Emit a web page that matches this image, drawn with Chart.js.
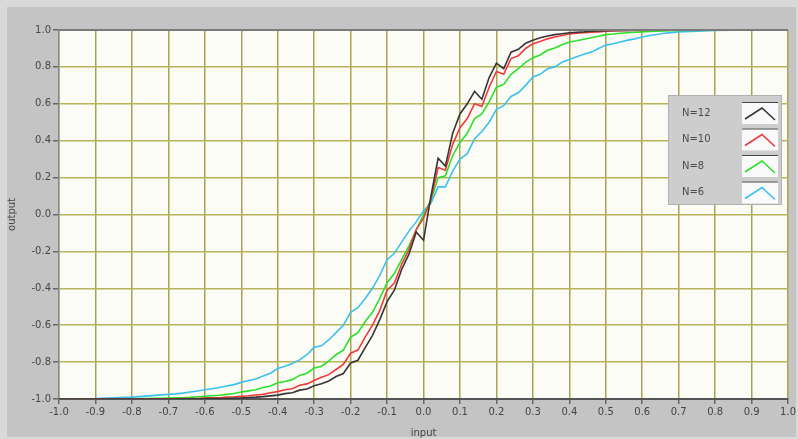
<!DOCTYPE html>
<html>
<head>
<meta charset="utf-8">
<script src="https://cdn.jsdelivr.net/npm/chart.js@4.4.1/dist/chart.umd.min.js"></script>
<style>
  html, body { margin: 0; padding: 0; background: #c4c4c4; }
  #wrap { width: 798px; height: 439px; position: relative; }
</style>
</head>
<body>
<div id="wrap"><canvas id="grafico" width="798" height="439"></canvas></div>
<script>
// input values shared by all curves
const inputs = [
  -1.0, -0.9, -0.8,
  -0.70, -0.68, -0.66, -0.64, -0.62, -0.60, -0.58, -0.56, -0.54, -0.52,
  -0.50, -0.48, -0.46, -0.44, -0.42, -0.40, -0.38, -0.36, -0.34, -0.32,
  -0.30, -0.28, -0.26, -0.24, -0.22, -0.20, -0.18, -0.16, -0.14, -0.12,
  -0.10, -0.08, -0.06, -0.04, -0.02, 0.00, 0.02, 0.04, 0.06, 0.08,
  0.10, 0.12, 0.14, 0.16, 0.18, 0.20, 0.22, 0.24, 0.26, 0.28,
  0.30, 0.32, 0.34, 0.36, 0.38, 0.40, 0.42, 0.44, 0.46, 0.48,
  0.50, 0.52, 0.54, 0.56, 0.58, 0.60, 0.62, 0.64, 0.66, 0.68,
  0.70, 0.8, 0.9, 1.0
];

const outN12 = [
  -1, -1, -1,
  -1, -1, -0.999, -0.999, -0.999, -0.998, -0.998, -0.997, -0.997, -0.995,
  -0.994, -0.992, -0.990, -0.987, -0.983, -0.979, -0.971, -0.966, -0.952, -0.946,
  -0.928, -0.917, -0.902, -0.878, -0.862, -0.805, -0.790, -0.722, -0.655, -0.570,
  -0.472, -0.410, -0.298, -0.215, -0.095, -0.140, 0.095, 0.305, 0.262, 0.440,
  0.545, 0.600, 0.668, 0.625, 0.742, 0.820, 0.790, 0.880, 0.895, 0.928,
  0.945, 0.958, 0.967, 0.975, 0.980, 0.985, 0.988, 0.990, 0.993, 0.995,
  0.996, 0.997, 0.998, 0.998, 0.999, 0.999, 1, 1, 1, 1,
  1, 1, 1, 1
];

const outN10 = [
  -1, -1, -1,
  -0.999, -0.999, -0.998, -0.998, -0.997, -0.995, -0.994, -0.993, -0.990, -0.988,
  -0.985, -0.982, -0.978, -0.975, -0.966, -0.960, -0.950, -0.944, -0.925, -0.918,
  -0.900, -0.882, -0.868, -0.840, -0.812, -0.752, -0.735, -0.665, -0.600, -0.520,
  -0.410, -0.372, -0.270, -0.190, -0.080, -0.020, 0.080, 0.255, 0.240, 0.380,
  0.470, 0.520, 0.600, 0.585, 0.690, 0.775, 0.760, 0.845, 0.860, 0.900,
  0.925, 0.938, 0.952, 0.962, 0.970, 0.978, 0.982, 0.985, 0.988, 0.990,
  0.993, 0.995, 0.996, 0.997, 0.998, 0.998, 0.999, 0.999, 1, 1,
  1, 1, 1, 1
];

const outN8 = [
  -1, -1, -0.999,
  -0.995, -0.994, -0.993, -0.991, -0.988, -0.985, -0.982, -0.980, -0.975, -0.970,
  -0.962, -0.956, -0.950, -0.938, -0.930, -0.912, -0.905, -0.895, -0.872, -0.860,
  -0.832, -0.822, -0.795, -0.760, -0.735, -0.665, -0.640, -0.580, -0.530, -0.455,
  -0.370, -0.320, -0.245, -0.170, -0.085, 0.000, 0.075, 0.200, 0.210, 0.320,
  0.390, 0.440, 0.520, 0.545, 0.610, 0.690, 0.705, 0.760, 0.790, 0.825,
  0.850, 0.865, 0.890, 0.902, 0.920, 0.935, 0.942, 0.950, 0.958, 0.966,
  0.975, 0.978, 0.982, 0.985, 0.988, 0.990, 0.992, 0.994, 0.995, 0.996,
  0.997, 0.999, 1, 1
];

const outN6 = [
  -1, -0.998, -0.990,
  -0.975, -0.972, -0.968, -0.962, -0.957, -0.950, -0.944, -0.938, -0.930, -0.922,
  -0.910, -0.900, -0.892, -0.875, -0.860, -0.835, -0.822, -0.808, -0.788, -0.760,
  -0.720, -0.712, -0.680, -0.640, -0.600, -0.530, -0.505, -0.455, -0.400, -0.330,
  -0.245, -0.210, -0.150, -0.090, -0.040, 0.020, 0.060, 0.150, 0.150, 0.235,
  0.300, 0.330, 0.410, 0.450, 0.500, 0.570, 0.590, 0.640, 0.660, 0.700,
  0.745, 0.760, 0.790, 0.800, 0.825, 0.840, 0.855, 0.868, 0.880, 0.900,
  0.918, 0.925, 0.935, 0.945, 0.952, 0.962, 0.970, 0.976, 0.982, 0.986,
  0.990, 0.997, 1, 1
];

const seriesNames = ['N=12', 'N=10', 'N=8', 'N=6'];
const seriesColors = ['#3a3338', '#f03a3a', '#2be02b', '#3cc0ee'];
const seriesValues = [outN12, outN10, outN8, outN6];

function toPoints(values) {
  return inputs.map((x, i) => ({ x: x, y: values[i] }));
}

const datasets = seriesNames.map((name, i) => ({
  label: name,
  data: toPoints(seriesValues[i]),
  borderColor: seriesColors[i],
  backgroundColor: 'transparent',
  borderWidth: 1.6,
  pointRadius: 0,
  tension: 0
}));

function fmt(v) {
  if (Math.abs(v) < 1e-9) return '0.0';
  return v.toFixed(1);
}

// gray panel behind everything, cream plotting area
const panelBg = {
  id: 'panelBg',
  beforeDraw(chart) {
    const ctx = chart.ctx;
    const a = chart.chartArea;
    ctx.save();
    ctx.fillStyle = '#d9d9d9';
    ctx.fillRect(0, 0, chart.width, chart.height);
    ctx.fillStyle = '#c4c4c4';
    ctx.fillRect(7, 7, chart.width - 9, chart.height - 9);
    ctx.fillStyle = '#fcfcf6';
    ctx.fillRect(a.left, a.top, a.right - a.left, a.bottom - a.top);
    ctx.restore();
  },
  afterDatasetsDraw(chart) {
    const ctx = chart.ctx;
    const a = chart.chartArea;
    ctx.save();
    ctx.strokeStyle = '#7a7a7a';
    ctx.lineWidth = 2;
    ctx.beginPath();
    ctx.moveTo(a.left, a.top);
    ctx.lineTo(a.right, a.top);
    ctx.stroke();
    ctx.restore();
  }
};

// legend box sitting inside the plot on the right
const boxLegend = {
  id: 'boxLegend',
  afterDraw(chart) {
    const ctx = chart.ctx;
    const x0 = 668, y0 = 95, w = 114, h = 110;
    ctx.save();
    ctx.fillStyle = '#cdcdcd';
    ctx.fillRect(x0, y0, w, h);
    ctx.strokeStyle = '#b0b0b0';
    ctx.lineWidth = 1;
    ctx.strokeRect(x0 + 0.5, y0 + 0.5, w - 1, h - 1);
    ctx.font = '10px "DejaVu Sans", sans-serif';
    ctx.textBaseline = 'middle';
    ctx.textAlign = 'left';
    chart.data.datasets.forEach((ds, i) => {
      const rowTop = y0 + 6 + i * 26.5;
      const bx = 742, by = rowTop + 1, bw = 36, bh = 22;
      ctx.fillStyle = '#4a4a4a';
      ctx.fillText(ds.label, x0 + 14, rowTop + 12);
      ctx.fillStyle = '#fafafa';
      ctx.fillRect(bx, by, bw, bh);
      ctx.strokeStyle = '#444';
      ctx.lineWidth = 1.2;
      ctx.beginPath();
      ctx.moveTo(bx, by + 0.5);
      ctx.lineTo(bx + bw, by + 0.5);
      ctx.stroke();
      ctx.strokeStyle = ds.borderColor;
      ctx.lineWidth = 1.6;
      ctx.beginPath();
      ctx.moveTo(bx + 3, by + bh - 5);
      ctx.lineTo(bx + 20, by + 6);
      ctx.lineTo(bx + bw - 3, by + bh - 4);
      ctx.stroke();
    });
    ctx.restore();
  }
};

const tickFont = { family: '"DejaVu Sans", sans-serif', size: 10 };

const config = {
  type: 'line',
  data: { datasets },
  options: {
    responsive: false,
    animation: false,
    layout: { padding: { top: 30, right: 9, left: 0, bottom: 0 } },
    plugins: {
      legend: { display: false },
      tooltip: { enabled: false }
    },
    scales: {
      x: {
        type: 'linear',
        min: -1,
        max: 1,
        ticks: {
          stepSize: 0.1,
          color: '#444',
          font: tickFont,
          padding: 2,
          maxRotation: 0,
          autoSkip: false,
          callback: v => fmt(v)
        },
        grid: {
          color: '#a9a252',
          lineWidth: 1.5,
          tickColor: '#666',
          tickLength: 5
        },
        border: { display: true, color: '#555', width: 2 },
        title: {
          display: true,
          text: 'input',
          color: '#444',
          font: { family: '"DejaVu Sans", sans-serif', size: 10 },
          padding: { top: 0, bottom: 0 }
        },
        afterFit: scale => { scale.height = 40; }
      },
      y: {
        min: -1,
        max: 1,
        ticks: {
          stepSize: 0.2,
          color: '#444',
          font: tickFont,
          padding: 2,
          callback: v => fmt(v)
        },
        grid: {
          color: '#b9b35a',
          lineWidth: 1.5,
          tickColor: '#666',
          tickLength: 6
        },
        border: { display: true, color: '#888', width: 1.5 },
        title: {
          display: true,
          text: 'output',
          color: '#444',
          font: { family: '"DejaVu Sans", sans-serif', size: 10 },
          padding: { top: 6, bottom: 0 }
        },
        afterFit: scale => { scale.width = 59; }
      }
    }
  },
  plugins: [panelBg, boxLegend]
};

const myChart = new Chart(document.getElementById('grafico'), config);
</script>
</body>
</html>
